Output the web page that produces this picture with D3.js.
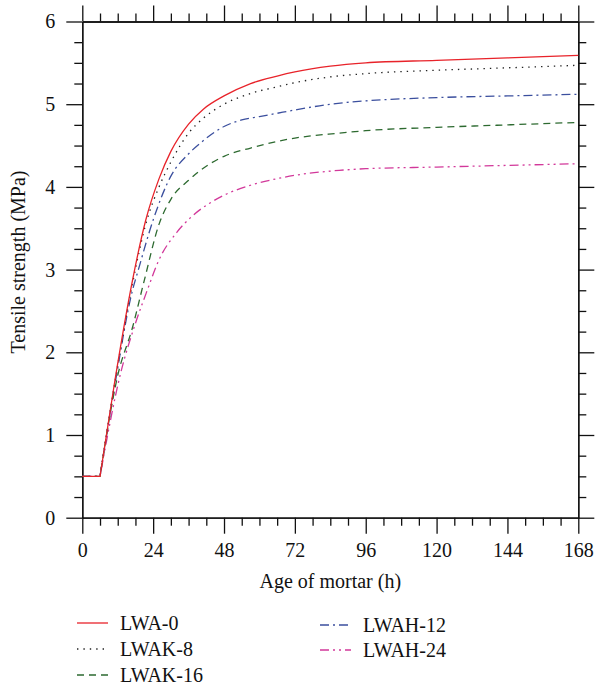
<!DOCTYPE html>
<html>
<head>
    <meta charset="UTF-8">
    <script src="https://d3js.org/d3.v7.min.js"></script>
</head>
<body style="margin:0">

<script>
    const width = 596;
    const height = 686;
    const serifFont = "Liberation Serif";
    const fontSize = 20;

    // Data (hours, MPa)
    const seriesNames = ["LWA-0", "LWAK-8", "LWAK-16", "LWAH-12", "LWAH-24"];
    const hoursA = [0, 6, 11, 17, 21.5, 26, 30, 36, 41, 48, 57, 66, 72, 84, 96, 120, 144, 168];
    const lwa0 = [0.5, 0.5, 1.65, 2.87, 3.6, 4.1, 4.43, 4.76, 4.94, 5.1, 5.25, 5.34, 5.39, 5.46, 5.5, 5.53, 5.56, 5.59];
    const lwak8 = [0.5, 0.5, 1.63, 2.83, 3.55, 4.0, 4.3, 4.65, 4.83, 5.0, 5.13, 5.21, 5.26, 5.33, 5.37, 5.41, 5.44, 5.47];
    const hoursB = [0, 6, 11, 17, 19, 24, 30, 36, 40, 48, 54, 60, 66, 72, 84, 96, 120, 144, 168];
    const lwah12 = [0.5, 0.5, 1.6, 2.75, 3.0, 3.6, 4.13, 4.4, 4.53, 4.73, 4.81, 4.85, 4.89, 4.93, 5.0, 5.04, 5.08, 5.1, 5.12];
    const hoursC = [0, 6, 12, 17, 21, 26, 30, 36, 40, 48, 57, 66, 72, 87, 96, 120, 144, 168];
    const lwak16 = [0.5, 0.5, 1.72, 2.3, 2.87, 3.55, 3.85, 4.08, 4.2, 4.37, 4.47, 4.55, 4.59, 4.65, 4.68, 4.72, 4.75, 4.78];
    const hoursD = [0, 6, 13, 18, 22, 26, 32, 37, 43, 48, 57, 66, 72, 87, 96, 120, 144, 168];
    const lwah24 = [0.5, 0.5, 1.75, 2.35, 2.75, 3.12, 3.45, 3.64, 3.8, 3.9, 4.02, 4.1, 4.14, 4.2, 4.22, 4.24, 4.26, 4.28];

    const xTicks = [0, 24, 48, 72, 96, 120, 144, 168];
    const yTicks = [0, 1, 2, 3, 4, 5, 6];

    const series = [
        { name: seriesNames[0], x: hoursA, y: lwa0, color: "#e8232a", dash: null },
        { name: seriesNames[1], x: hoursA, y: lwak8, color: "#222222", dash: "1.4,5" },
        { name: seriesNames[2], x: hoursC, y: lwak16, color: "#2d6a30", dash: "7,5" },
        { name: seriesNames[3], x: hoursB, y: lwah12, color: "#3b4f9e", dash: "9,4,2,4" },
        { name: seriesNames[4], x: hoursD, y: lwah24, color: "#d2389a", dash: "9,4,2,4,2,4" }
    ];

    const margin = { left: 82.3, right: 17.7, top: 21.5, bottom: 168.3 };
    const innerW = width - margin.left - margin.right;
    const innerH = height - margin.top - margin.bottom;

    const svg = d3.select("body")
        .append("svg")
        .attr("width", width)
        .attr("height", height)
        .attr("font-family", serifFont)
        .attr("font-size", fontSize);

    const g = svg.append("g")
        .attr("transform", `translate(${margin.left},${margin.top})`);

    const x = d3.scaleLinear().domain([0, 168]).range([0, innerW]);
    const y = d3.scaleLinear().domain([0, 6]).range([innerH, 0]);

    const xMinor = d3.range(0, 169, 6).filter(d => d % 24 !== 0);
    const yMinor = d3.range(0, 6.01, 0.25).filter(d => Math.abs(d - Math.round(d)) > 1e-6);

    function styleAxis(sel) {
        sel.attr("font-family", serifFont).attr("font-size", fontSize);
        sel.select(".domain").attr("stroke", "#111").attr("stroke-width", 1.3);
        sel.selectAll(".tick line").attr("stroke", "#111").attr("stroke-width", 1.3);
        sel.selectAll("text").attr("fill", "#111");
    }

    // bottom
    g.append("g").attr("transform", `translate(0,${innerH})`)
        .call(d3.axisBottom(x).tickValues(xMinor).tickSize(8).tickFormat("").tickSizeOuter(0))
        .call(styleAxis);
    g.append("g").attr("transform", `translate(0,${innerH})`)
        .call(d3.axisBottom(x).tickValues(xTicks).tickSize(16).tickPadding(9).tickSizeOuter(0))
        .call(styleAxis);
    // top
    g.append("g")
        .call(d3.axisTop(x).tickValues(xMinor).tickSize(8).tickFormat("").tickSizeOuter(0))
        .call(styleAxis);
    g.append("g")
        .call(d3.axisTop(x).tickValues(xTicks).tickSize(16).tickFormat("").tickSizeOuter(0))
        .call(styleAxis);
    // left
    g.append("g")
        .call(d3.axisLeft(y).tickValues(yMinor).tickSize(8).tickFormat("").tickSizeOuter(0))
        .call(styleAxis);
    g.append("g")
        .call(d3.axisLeft(y).tickValues(yTicks).tickSize(16).tickPadding(11).tickFormat(d3.format("d")).tickSizeOuter(0))
        .call(styleAxis);
    // right
    g.append("g").attr("transform", `translate(${innerW},0)`)
        .call(d3.axisRight(y).tickValues(yMinor).tickSize(8).tickFormat("").tickSizeOuter(0))
        .call(styleAxis);
    g.append("g").attr("transform", `translate(${innerW},0)`)
        .call(d3.axisRight(y).tickValues(yTicks).tickSize(16).tickFormat("").tickSizeOuter(0))
        .call(styleAxis);

    // Lines: flat start drawn straight, the rest smoothed
    const flatLine = d3.line().x(d => x(d[0])).y(d => y(d[1])).curve(d3.curveLinear);
    const smoothLine = d3.line().x(d => x(d[0])).y(d => y(d[1])).curve(d3.curveMonotoneX);

    const plot = g.append("g");
    series.slice().reverse().forEach(s => {
        const pts = s.x.map((h, i) => [h, s.y[i]]);
        const path = flatLine(pts.slice(0, 2)) + smoothLine(pts.slice(1)).replace(/^M/, "L");
        plot.append("path")
            .attr("d", path)
            .attr("fill", "none")
            .attr("stroke", s.color)
            .attr("stroke-width", 1.3)
            .attr("stroke-dasharray", s.dash);
    });

    // Axis titles
    svg.append("text")
        .attr("x", margin.left + innerW / 2)
        .attr("y", 588)
        .attr("text-anchor", "middle")
        .attr("fill", "#111")
        .text("Age of mortar (h)");

    svg.append("text")
        .attr("transform", `translate(25,262) rotate(-90)`)
        .attr("text-anchor", "middle")
        .attr("fill", "#111")
        .text("Tensile strength (MPa)");

    // Legend
    const legendPos = [
        { lx: 77, ly: 623 },
        { lx: 77, ly: 649 },
        { lx: 77, ly: 675 },
        { lx: 320, ly: 625 },
        { lx: 320, ly: 650 }
    ];
    series.forEach((s, i) => {
        const p = legendPos[i];
        svg.append("line")
            .attr("x1", p.lx).attr("x2", p.lx + 31)
            .attr("y1", p.ly).attr("y2", p.ly)
            .attr("stroke", s.color)
            .attr("stroke-width", 1.3)
            .attr("stroke-dasharray", s.dash);
        svg.append("text")
            .attr("x", p.lx + 43)
            .attr("y", p.ly)
            .attr("dy", "0.35em")
            .attr("fill", "#111")
            .text(s.name);
    });
</script>

</body>
</html>
